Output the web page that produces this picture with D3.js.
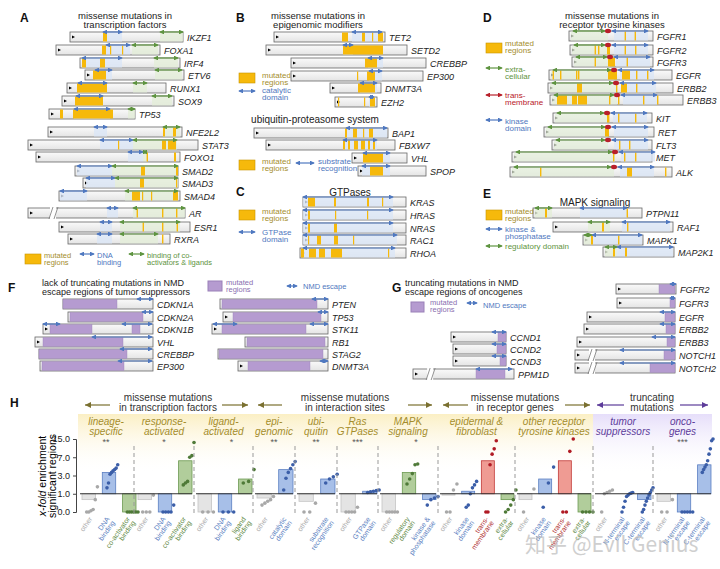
<!DOCTYPE html>
<html><head><meta charset="utf-8">
<script src="https://cdn.jsdelivr.net/npm/d3@7"></script>
<style>body{margin:0;background:#fff}svg{font-family:"Liberation Sans",Arial,sans-serif}</style>
</head><body><svg id="c" width="720" height="569"></svg>
<script>
// ---------- DATA: protein panels (units per panel scale) ----------
// [gene, start, end, mutated regions, blue domains, green domains, row]
const panelA = [
 ["IKZF1",25,81.5,[[41.5,43.5]],[[41.5,51]],[[70,81.5]],37],
 ["FOXA1",18,70,[[41,43],[45,45.5],[51,51.5]],[[43,55]],[[56,69]],50],
 ["IRF4",30,80,[[31,33],[40,42.5]],[[31,51]],[[67,79]],63],
 ["ETV6",32.5,82,[[36.5,43]],[[37.5,46]],[[67.5,81]],75],
 ["RUNX1",23.5,73,[[28.5,43.5]],[[29,43.5]],[[56.5,63.5]],88],
 ["SOX9",21,77,[[27.5,41.5]],[[28,41.5]],[[66,76]],101],
 ["TP53",14.5,57.5,[[20,21.5],[26.5,46.5]],[[27,45]],[[54,57.5]],114],
 ["NFE2L2",14,81,[[71.5,72.5],[76.5,78]],[[37,43.5]],[[71.5,80]],132],
 ["STAT3",4,89,[[49,49.5],[71,73],[74,78]],[[40,56.5]],[[56.5,78.5]],145],
 ["FOXO1",8,80,[[63.3,64],[77,78]],[[54,61.5]],[[61.5,63.5]],157],
 ["SMAD2",27.5,79,[[60.5,62.5],[78,79]],[[28.5,46]],[[46,79]],171],
 ["SMAD3",31.5,79,[[60,62],[78,78.5]],[[33,47.5]],[[47.5,79]],183],
 ["SMAD4",19.5,80,[[56,60],[61,61.5],[65.5,66],[76.5,79]],[[20,33.5]],[[52.5,79]],196],
 ["AR",4,82.5,[[58.3,59],[71,71.7],[78,78.7]],[[43.5,49]],[[56.5,82.5]],213],
 ["ESR1",19.5,85,[[61.3,62],[71,71.7],[78.3,79]],[[40,46]],[[50,80]],227],
 ["RXRA",24,75,[[71,71.7]],[[38.5,46]],[[50,69]],239]
];
const panelB = [
 ["TET2",12,67.5,[[46,49],[56,57.5],[61,61.5],[64,66.5]],[[51,66]],[],37],
 ["SETD2",8,78.5,[[46.5,66.5]],[[46.5,51.5]],[],50],
 ["CREBBP",20.5,88,[[57.5,63.5]],[[59,66.5]],[],63],
 ["EP300",20.5,86.5,[[53.5,54],[58.5,62.5]],[[59.5,66]],[],76],
 ["DNMT3A",40,65.5,[[54,62.5]],[[55,63.5]],[],88],
 ["EZH2",42.5,63.5,[[44,44.5],[57,57.5],[60,62.5]],[[59.5,62]],[],102]
];
const panelUb = [
 ["BAP1",2,69,[[47.5,48.5],[51.5,53.5],[56.5,57],[59.5,61.5]],[[48,68.5]],[],133],
 ["FBXW7",8,72.5,[[46.5,47.5],[49,50],[52,54],[55.5,57.5],[59,60],[61.5,62.5]],[[46.5,63.5]],[],145],
 ["VHL",51,78.5,[[56.5,66.5]],[[56.5,70]],[],158],
 ["SPOP",54,88,[[60,66.5]],[[56,70]],[],171]
];
const panelC = [
 ["KRAS",26.5,78,[[29,32.5],[42,43],[58.5,59.5],[66,66.5]],[[26.5,71.5]],[],202],
 ["HRAS",26.5,78,[[29,30],[42.5,43],[58.5,59]],[[26.5,71.5]],[],215],
 ["NRAS",26.5,78,[[29,30],[42,43.5]],[[26.5,71.5]],[],228],
 ["RAC1",26.5,78,[[29,29.5],[33.5,35.5],[42,44],[51.5,52]],[[26.5,73.5]],[],240],
 ["RHOA",25,78,[[25.5,27],[29.5,33],[34.5,37.5],[40.5,46],[69,69.5]],[[26.5,72.5]],[],253]
];
// [gene,start,end,mutations,transmembrane,row]
const panelD = [
 ["FGFR1",34.5,76.5,[[62.3,63],[67.3,68]],54,36],
 ["FGFR2",35,76.5,[[47.3,48],[49,49.7],[53.5,55],[62.3,63],[67.5,68.2]],54,50],
 ["FGFR3",36,76.5,[[47.3,48],[54,57.5],[63.3,64]],55,62],
 ["EGFR",24.5,86,[[26.3,27],[30,30.7],[38,38.7],[39,39.7],[54,58.5],[61,65],[68,68.7],[73.5,74.2]],57,75],
 ["ERBB2",24,86.5,[[38.5,41],[58,58.7],[60.5,63.5],[68,68.7]],58,88],
 ["ERBB3",25,91.5,[[28.5,33.5],[36,38.5],[39,43.5],[54.5,55.2],[59,59.7],[71.5,72.2],[78.5,79.2]],58.5,100],
 ["KIT",26.5,76,[[53.5,54.7],[59,59.7],[67.5,68.2]],53.5,118],
 ["RET",22,77,[[52.5,54.5]],54,132],
 ["FLT3",26,76,[[59.5,60.2],[64.5,65.2]],54,145],
 ["MET",6,76,[[56.5,57.2],[62,62.7],[67.5,68.2]],57.5,157],
 ["ALK",5,86,[[20,20.7],[63.5,66],[82.5,83.2]],57,172]
];
const panelE = [
 ["PTPN11",16.5,71,[[22.5,23.5],[63.3,64]],[[40,63.5]],[[17.5,26]],213],
 ["RAF1",26.5,86.5,[[51,52],[63.5,64.2]],[[61,85]],[[44,55]],227],
 ["MAPK1",41.5,71.5,[[45.5,46.5],[59,59.7]],[[46,71]],[[42,46]],240],
 ["MAP2K1",51.5,87,[[56.5,57.5],[62.5,63.5]],[[58.5,86.5]],[[52.5,58.5]],252]
];
// [gene,start,end,purple regions,NMD escape,row,break]
const panelF = [
 ["CDKN1A",31.5,76.5,[[31.5,58.5]],[[68.5,76.5]],304],
 ["CDKN2A",34,76.5,[[35,71.5]],[[71,76.5]],317],
 ["CDKN1B",21.5,76.5,[[25,46],[66,70]],[[61,76],[21.5,30]],329],
 ["VHL",17.5,76.5,[[21.5,61.5]],[[46,76]],342],
 ["CREBBP",19.5,76.5,[[19.5,63.5]],[[60,76]],354],
 ["EP300",20,76.5,[[21,62]],[[59,76]],366],
 ["PTEN",110,164,[[111,158.5]],[[156,164]],304],
 ["TP53",111.5,164,[[116.5,160.5]],[[159,164]],317],
 ["STK11",106,164,[[111,153]],[[106.5,118.5],[155,164]],329],
 ["RB1",122.5,164,[[123.5,162.5]],[],342],
 ["STAG2",109,164,[[109.5,161.5]],[],354],
 ["DNMT3A",119,164,[[124,155]],[[160,164]],366]
];
const panelG = [
 ["CCND1",45.5,73,[[69,73]],[[66,73]],337,0],
 ["CCND2",46.5,73,[[68.5,73]],[[66,73]],349,0],
 ["CCND3",46.5,73,[[70,73]],[[66,73]],361,0],
 ["PPM1D",26.5,77,[[58,72.5]],[[58,76]],374,1],
 ["FGFR2",128,158,[[149.5,157.5]],[[155,158]],289,0],
 ["FGFR3",128.5,157.5,[[155,157.5]],[[155,157.5]],303,0],
 ["EGFR",113.5,157.5,[[152.5,157.5]],[[150,157.5]],317,0],
 ["ERBB2",112,157.5,[[153,157.5]],[[150,157.5]],329,0],
 ["ERBB3",108.5,157.5,[[153.5,157.5]],[[146,157.5]],342,0],
 ["NOTCH1",107.5,157.5,[[152,157.5]],[[130,157.5]],355,1],
 ["NOTCH2",107.5,157.5,[[145,157.5]],[[130,157.5]],368,1]
];
// ---------- DATA: panel H ----------
const hGroups = ["lineage-|specific","response-|activated","ligand-|activated","epi-|genomic","ubi-|quitin","Ras|GTPases","MAPK|signaling","epidermal &|fibroblast","other receptor|tyrosine kinases","tumor|suppressors","onco-|genes"];
const hStars = ["**","*","*","**","**","***","*","","","","***"];
const hBarLabels = [
 ["other","DNA|binding","co-activator|binding"],
 ["other","DNA|binding","co-activator|binding"],
 ["other","DNA|binding","ligand|binding"],
 ["other","catalytic|domain"],
 ["other","substrate|recognition"],
 ["other","GTPase|domain"],
 ["other","regulatory|domain","kinase &|phosphatase"],
 ["other","kinase|domain","trans-|membrane","extra-|cellular"],
 ["other","kinase|domain","trans-|membrane","extra-|cellular"],
 ["other","N-terminal|escape","C-terminal|escape"],
 ["other","N-terminal|escape","C-terminal|escape"]
];
const hBarTypes = [
 ["o","b","g"],["o","b","g"],["o","b","g"],["o","b"],["o","b"],["o","b"],["o","g","b"],["o","b","r","g"],["o","b","r","g"],["o","b","b"],["o","b","b"]
];
const hBarValues = [
 [0.6,3.5,0],[0.6,0,6],[0,0,2.5],[0.7,4],[0.5,2.5],[0,1.2],[0,3.5,0.6],[0.9,1.2,6,0.6],[0.6,2.5,6,0],[1.0,1.0,0.6],[0.5,0,5]
];
const hDots = [
 [[0,0,0.05,0.1,0.6,1.6],[1.5,2,3.2,3.5,3.8,4,4.3,5],[0,0,0,0,0,0]],
 [[0,0,0,0.9],[0,0,0,0,0.3],[1.8,2,2.2,7,7.5,13]],
 [[0,0,0],[0,0,0],[2,2.2,4]],
 [[0.3,0.4,0.5,0.6,0.8],[1.3,2.6,3.5,4.2,5,5.8]],
 [[0,0,0.4],[2,2.5,2.8,3.2]],
 [[0,0,0,0,0.2],[1.1,1.15,1.2,1.25,1.3]],
 [[0,0,0,0,0],[1.9,2.5,3.3,5,5.2],[0.3,0.6,0.7,0.8]],
 [[0,0,1.3,1.9],[0.2,0.3,1,1.5,1.8,2.2],[0,0,5,8,10,14],[0,0.1,0.3,0.6,1.3]],
 [[0,1.4],[0.2,2,4.5],[0,0,9,15],[0,0,0,0]],
 [[0,1,1.1,1.2,1.3],[0,0.2,0.5,0.8,0.9,1,1.05,1.1],[0,0.1,0.3,0.5,0.7,0.9,1.1,1.3,1.5]],
 [[0,0,0.6],[0,0,0,0,0],[3.5,4,4.5,5,6,8,10,14,15]]
];
const hTicks = [0,1,3,7,15];
const hBoundaries = [78,134,194,253,295,337,378,438,515,593,653,712];

// ---------- DRAWING ----------
const svg = d3.select("#c");
const YEL="#f6b90b", BLUE="#4f78c0", GREEN="#5e9440", RED="#b8202a", PURP="#b59bd0", OLIVE="#a48d2c";
const defs = svg.append("defs");
[["b",BLUE],["g",GREEN],["r",RED]].forEach(([k,c])=>{
  defs.append("marker").attr("id","m"+k).attr("viewBox","0 0 6 6").attr("refX",5).attr("refY",3)
   .attr("markerWidth",4).attr("markerHeight",4).attr("orient","auto-start-reverse")
   .append("path").attr("d","M0,0L6,3L0,6z").attr("fill",c);
});
const gb=defs.append("linearGradient").attr("id","bar").attr("x1",0).attr("x2",0).attr("y1",0).attr("y2",1);
gb.append("stop").attr("offset",0).attr("stop-color","#fafafa");gb.append("stop").attr("offset",1).attr("stop-color","#e4e4e4");
const gy=defs.append("linearGradient").attr("id","hy").attr("x1",0).attr("x2",0).attr("y1",0).attr("y2",1);
gy.append("stop").attr("offset",0).attr("stop-color","#fbefc4");gy.append("stop").attr("offset",1).attr("stop-color","#fff").attr("stop-opacity",0);
const gp=defs.append("linearGradient").attr("id","hp").attr("x1",0).attr("x2",0).attr("y1",0).attr("y2",1);
gp.append("stop").attr("offset",0).attr("stop-color","#e6defa");gp.append("stop").attr("offset",1).attr("stop-color","#fff").attr("stop-opacity",0);

function arrow(g,x1,x2,y,col,k){
  g.append("line").attr("x1",x1).attr("x2",x2).attr("y1",y).attr("y2",y).attr("stroke",col).attr("stroke-width",1.2)
   .attr("marker-start","url(#m"+k+")").attr("marker-end","url(#m"+k+")");
}
function geneBar(g,x,s,e,y,brk){
  g.append("rect").attr("x",x(s)).attr("y",y-5).attr("width",x(e)-x(s)).attr("height",10).attr("fill","url(#bar)").attr("stroke","#666").attr("stroke-width",0.8);
  g.append("path").attr("d",`M${x(s)+2},${y-1.5}l3,1.5l-3,1.5z`).attr("fill","#000");
  if(brk){const bx=x(s)+(x(e)-x(s))*0.14;
    g.append("rect").attr("x",bx).attr("y",y-6).attr("width",6).attr("height",12).attr("fill","#fff");
    g.append("path").attr("d",`M${bx-1},${y+6}l4,-12M${bx+4},${y+6}l4,-12`).attr("stroke","#777").attr("stroke-width",0.8);}
}
function label(g,x,y,t,col,size,ital,anchor){
  return g.append("text").attr("x",x).attr("y",y).attr("font-size",size||9).attr("fill",col||"#222")
   .attr("font-style",ital?"italic":"normal").attr("text-anchor",anchor||"start").text(t);
}
function multi(g,x,y,lines,col,size,anchor,lh,ital){
  lines.forEach((l,i)=>label(g,x,y+i*(lh||8),l,col,size,ital,anchor));
}
function missensePanel(rows,x){
  const g=svg.append("g");
  rows.forEach(r=>{
    const [n,s,e,m,bd,gd,y]=r;
    geneBar(g,x,s,e,y,n==="AR");
    bd.forEach(d=>g.append("rect").attr("x",x(d[0])).attr("y",y-4.5).attr("width",x(d[1])-x(d[0])).attr("height",9).attr("fill","#dbe6f6").attr("opacity",.8));
    gd.forEach(d=>g.append("rect").attr("x",x(d[0])).attr("y",y-4.5).attr("width",x(d[1])-x(d[0])).attr("height",9).attr("fill","#e3eed8").attr("opacity",.8));
    m.forEach(d=>g.append("rect").attr("x",x(d[0])).attr("y",y-4.5).attr("width",Math.max(1.2,x(d[1])-x(d[0]))).attr("height",9).attr("fill",YEL));
    bd.forEach(d=>arrow(g,x(d[0]),x(d[1]),y-5,BLUE,"b"));
    gd.forEach(d=>arrow(g,x(d[0]),x(d[1]),y-5,GREEN,"g"));
    label(g,x(e)+4,y+3.5,n,"#222",9,true);
  });
}
function yelBox(x,y){svg.append("rect").attr("x",x).attr("y",y).attr("width",16).attr("height",10).attr("fill",YEL).attr("stroke","#c89400").attr("stroke-width",.6);}

[["A",20,22],["B",236,22],["C",236,196],["D",483,22],["E",483,198],["F",8,292],["G",392,292],["H",10,407]].forEach(([t,x,y])=>
  label(svg,x,y,t,"#111",12,false).attr("font-weight","bold"));

// A
const xA=d3.scaleLinear().domain([0,100]).range([20,220]);
multi(svg,125,19,["missense mutations in","transcription factors"],"#222",9.5,"middle",8.5);
missensePanel(panelA,xA);
yelBox(25,254);multi(svg,44,258,["mutated","regions"],OLIVE,7.5,"start",7);
arrow(svg,80,94,254,BLUE,"b");multi(svg,97,258,["DNA","binding"],BLUE,7.5,"start",7);
arrow(svg,129,144,254,GREEN,"g");multi(svg,147,258,["binding of co-","activators & ligands"],GREEN,7.5,"start",7);

// B
const xB=d3.scaleLinear().domain([0,100]).range([250,450]);
multi(svg,318,19,["missense mutations in","epigenomic modifiers"],"#222",9.5,"middle",8.5);
missensePanel(panelB,xB);
yelBox(239,73);multi(svg,262,78,["mutated","regions"],OLIVE,8,"start",7);
arrow(svg,239,255,91,BLUE,"b");multi(svg,262,93,["catalytic","domain"],BLUE,8,"start",7);
label(svg,315,123,"ubiquitin-proteasome system","#222",10,false,"middle");
missensePanel(panelUb,xB);
yelBox(239,160);multi(svg,262,164,["mutated","regions"],OLIVE,8,"start",7);
arrow(svg,296,314,163,BLUE,"b");multi(svg,318,164,["substrate","recognition"],BLUE,8,"start",7);

// C
label(svg,350,196,"GTPases","#222",10,false,"middle");
missensePanel(panelC,xB);
yelBox(239,210);multi(svg,262,214,["mutated","regions"],OLIVE,8,"start",7);
arrow(svg,239,255,232,BLUE,"b");multi(svg,262,235,["GTPase","domain"],BLUE,8,"start",7);

// D
const xD=d3.scaleLinear().domain([0,100]).range([500,700]);
multi(svg,612,19,["missense mutations in","receptor tyrosine kinases"],"#222",9.5,"middle",8.5);
{const g=svg.append("g");
 panelD.forEach(([n,s,e,m,tm,y])=>{
  geneBar(g,xD,s,e,y,false);
  g.append("rect").attr("x",xD(s+1)).attr("y",y-4.5).attr("width",xD(tm)-xD(s+1)).attr("height",9).attr("fill","#e3eed8").attr("opacity",.7);
  g.append("rect").attr("x",xD(tm+3)).attr("y",y-4.5).attr("width",xD(tm+20)-xD(tm+3)).attr("height",9).attr("fill","#dbe6f6").attr("opacity",.8);
  m.forEach(d=>g.append("rect").attr("x",xD(d[0])).attr("y",y-4.5).attr("width",Math.max(1.2,xD(d[1])-xD(d[0]))).attr("height",9).attr("fill",YEL));
  arrow(g,xD(s+2),xD(tm-1.5),y-5,GREEN,"g");
  arrow(g,xD(tm+2),xD(tm+20),y-5,BLUE,"b");
  g.append("ellipse").attr("cx",xD(tm)).attr("cy",y-5).attr("rx",3).attr("ry",2.2).attr("fill",RED);
  label(g,xD(e)+4,y+3.5,n,"#222",9,true);
 });}
yelBox(486,43);multi(svg,505,46,["mutated","regions"],OLIVE,8,"start",7);
arrow(svg,486,502,68,GREEN,"g");multi(svg,505,72,["extra-","cellular"],GREEN,8,"start",7);
arrow(svg,486,502,95,RED,"r");multi(svg,505,98,["trans-","membrane"],RED,8,"start",7);
arrow(svg,486,502,120,BLUE,"b");multi(svg,505,124,["kinase","domain"],BLUE,8,"start",7);

// E
label(svg,595,206,"MAPK signaling","#222",10,false,"middle");
missensePanel(panelE,xD);
yelBox(486,210);multi(svg,505,214,["mutated","regions"],OLIVE,8,"start",7);
arrow(svg,486,502,229,BLUE,"b");multi(svg,505,232,["kinase &","phosphatase"],BLUE,8,"start",7);
arrow(svg,486,502,246,GREEN,"g");label(svg,505,249,"regulatory domain",GREEN,8);

// F & G
function truncPanel(rows,x){
  const g=svg.append("g");
  rows.forEach(r=>{
    const [n,s,e,p,b,y,brk]=r;
    geneBar(g,x,s,e,y,brk);
    p.forEach(d=>g.append("rect").attr("x",x(d[0])).attr("y",y-4.5).attr("width",x(d[1])-x(d[0])).attr("height",9).attr("fill",PURP).attr("stroke","#9a80b8").attr("stroke-width",.4));
    b.forEach(d=>arrow(g,x(d[0]),x(d[1]),y-5,BLUE,"b"));
    label(g,x(e)+4,y+3.5,n,"#222",9,true);
  });
}
const xF=d3.scaleLinear().domain([0,180]).range([0,360]);
multi(svg,42,286,["lack of truncating mutations in NMD","escape regions of tumor suppressors"],"#222",9,"start",8.5);
truncPanel(panelF,xF);
svg.append("rect").attr("x",208).attr("y",281).attr("width",14).attr("height",10).attr("fill",PURP).attr("stroke","#9a80b8");
multi(svg,226,285,["mutated","regions"],"#8a6fb0",7.5,"start",7);
arrow(svg,287,297,286,BLUE,"b");label(svg,303,289,"NMD escape",BLUE,7.5);
const xG=d3.scaleLinear().domain([0,180]).range([360,720]);
multi(svg,405,286,["truncating mutations in NMD","escape regions of oncogenes"],"#222",9,"start",8.5);
truncPanel(panelG,xG);
svg.append("rect").attr("x",411).attr("y",302).attr("width",13).attr("height",10).attr("fill",PURP).attr("stroke","#9a80b8");
multi(svg,430,305,["mutated","regions"],"#8a6fb0",7.5,"start",7);
arrow(svg,467,477,303,BLUE,"b");label(svg,483,308,"NMD escape",BLUE,7.5);

// ---------- H ----------
const yH=d3.scaleLinear().domain([0,4]).range([512,439]);
const yv=v=>yH(Math.log2(Math.min(v,15)+1));
svg.append("rect").attr("x",78).attr("y",414).attr("width",515).attr("height",60).attr("fill","url(#hy)");
svg.append("rect").attr("x",593).attr("y",414).attr("width",119).attr("height",60).attr("fill","url(#hp)");
const heads=[[168,["missense mutations","in transcription factors"],OLIVE,85,110,222,248],
 [345,["missense mutations","in interaction sites"],OLIVE,258,282,408,432],
 [515,["missense mutations","in receptor genes"],OLIVE,443,468,565,590],
 [652,["truncating","mutations"],"#5d3c9a",597,624,680,708]];
heads.forEach(([cx,l,c,a1,a2,b1,b2])=>{
  multi(svg,cx,401,l,"#333",10,"middle",9.5);
  const cc=c==OLIVE?"#7a7030":c;
  [[a2,a1],[b1,b2]].forEach(([p,q])=>{
    svg.append("line").attr("x1",p).attr("x2",q).attr("y1",405).attr("y2",405).attr("stroke",cc).attr("stroke-width",1.2);
    const d=q>p?1:-1;
    svg.append("path").attr("d",`M${q},405l${-6*d},-3l0,6z`).attr("fill",cc);
  });
});
const ax=svg.append("g").attr("transform","translate(76,0)").call(d3.axisLeft(yH).tickValues(hTicks.map(v=>Math.log2(v+1))).tickFormat((d,i)=>hTicks[i].toFixed(1)).tickSize(3));
ax.select(".domain").attr("stroke","#444");ax.selectAll("text").attr("font-size",9).attr("fill","#222");ax.selectAll("line").attr("stroke","#444");
svg.append("text").attr("transform","translate(46,476) rotate(-90)").attr("text-anchor","middle").attr("font-size",10.5)
 .html('<tspan font-style="italic">x-fold</tspan> enrichment');
svg.append("text").attr("transform","translate(56,476) rotate(-90)").attr("text-anchor","middle").attr("font-size",10.5).text("significant regions");
const fills={o:"#e4e4e4",b:"#a7bfe8",g:"#b1cd9b",r:"#ef9b93"}, strokes={o:"#c4c4c4",b:"#5b7fc2",g:"#6c9a52",r:"#c23a38"}, dotc={o:"#a8a8a8",b:"#3b5ea8",g:"#4f7a38",r:"#b01a24"}, labc={o:"#aaa",b:"#5b7fc2",g:"#5f8a45",r:"#b03030"};
hGroups.forEach((gname,gi)=>{
  const g0=hBoundaries[gi], g1=hBoundaries[gi+1], n=hBarValues[gi].length;
  const xb=d3.scaleBand().domain(d3.range(n)).range([g0+4,g0+4+n*18]).paddingInner(0.34).paddingOuter(0);
  const purple=gi>=9;
  multi(svg,(g0+g1)/2,425,gname.split("|"),purple?"#5d3c9a":OLIVE,10,"middle",10,true);
  label(svg,(g0+g1)/2+(gi==2||gi==6?8:0),445,hStars[gi],"#555",9,false,"middle");
  if(gi>0) svg.append("line").attr("x1",g0).attr("x2",g0).attr("y1",446).attr("y2",514).attr("stroke","#999").attr("stroke-dasharray","4,3");
  hBarValues[gi].forEach((v,i)=>{
    const t=hBarTypes[gi][i], bx=xb(i), bw=xb.bandwidth();
    const y1=yv(1), y2=yv(v);
    svg.append("rect").attr("x",bx).attr("y",Math.min(y1,y2)).attr("width",bw).attr("height",Math.abs(y2-y1)).attr("fill",fills[t]).attr("stroke",strokes[t]).attr("stroke-width",.8);
    const ds=hDots[gi][i];
    ds.forEach((d,j)=>svg.append("circle").attr("cx",bx+bw*0.35+ (ds.length>1? j/(ds.length-1)*bw*0.8:0)).attr("cy",yv(d)).attr("r",1.8).attr("fill",dotc[t]));
    const lines=hBarLabels[gi][i].split("|");
    const tx=svg.append("text").attr("transform",`translate(${bx+bw/2+4-(lines.length-1)*3},${519}) rotate(-55)`).attr("text-anchor","end").attr("font-size",7).attr("fill",labc[t]);
    lines.forEach((l,k)=>tx.append("tspan").attr("x",0).attr("dy",k?6.5:0).text(l));
  });
  svg.append("line").attr("x1",g0+2).attr("x2",g0+4+n*18).attr("y1",yv(1)).attr("y2",yv(1)).attr("stroke","#333").attr("stroke-width",1.2);
});
svg.append("text").attr("x",525).attr("y",552).attr("font-size",21).attr("fill","#bbb").attr("opacity",.7).text("知乎 @Evil Genius").attr("font-family","Noto Sans CJK SC");
</script></body></html>
